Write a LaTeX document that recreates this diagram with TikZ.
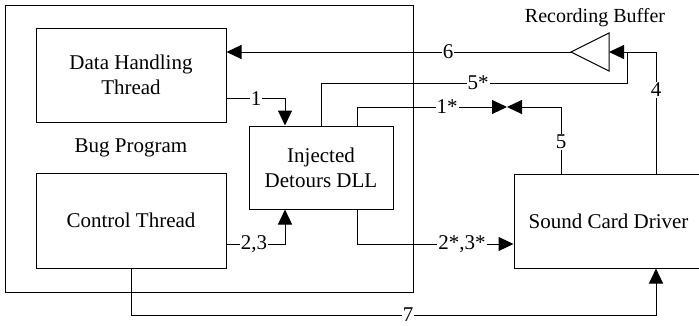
\documentclass[tikz,border=0pt]{standalone}
\usepackage{fontspec}
\setmainfont{Liberation Serif}
\usetikzlibrary{arrows.meta}
\begin{document}
\begin{tikzpicture}[x=1pt,y=-1pt,
  every node/.style={font=\fontsize{21}{25}\selectfont},
  box/.style={draw, line width=1pt, inner sep=0pt, align=center},
  conn/.style={line width=1pt},
  arr/.style={line width=1pt, -{Triangle[length=15pt,width=14pt]}},
  lbl/.style={fill=white, inner sep=1pt}]
\useasboundingbox (0,0) rectangle (699,325);
% boxes
\node[box, minimum width=408pt, minimum height=287pt] (outer) at (209,148.5) {};
\node[box, minimum width=190pt, minimum height=94pt] (dh) at (131,75) {Data Handling\\Thread};
\node[box, minimum width=190pt, minimum height=95pt] (ct) at (131,220.5) {Control Thread};
\node[box, minimum width=144pt, minimum height=83pt] (dll) at (321,167.5) {Injected\\Detours DLL};
\node[box, minimum width=189pt, minimum height=94pt] (scd) at (608.5,221) {Sound Card Driver};
\node (buglbl) at (131,148) {Bug Program};
\node[font=\fontsize{20}{24}\selectfont] (reclbl) at (595,18) {Recording Buffer};
% recording buffer triangle
\coordinate (buftip) at (571,52);
\coordinate (bufbase) at (609,52);
\draw[conn] (buftip) -- (609,33) -- (609,71) -- cycle;
\coordinate (j5) at (627,52);
\coordinate (meet) at (507,107);
% connectors
\draw[arr] (buftip) -- (dh.east|-buftip);
\draw[arr] ([xshift=47.5pt]scd.north) |- (bufbase);
\draw[conn] (dll.north) |- (627,83) -- (j5);
\draw[arr] ([xshift=36pt]dll.north) |- (meet);
\draw[arr] ([xshift=-47.5pt]scd.north) |- (meet);
\draw[arr] ([yshift=-23.5pt]dh.east) -| ([xshift=-36pt]dll.north);
\draw[arr] ([yshift=-23.5pt]ct.east) -| ([xshift=-36pt]dll.south);
\draw[arr] ([xshift=36pt]dll.south) |- ([yshift=-23pt]scd.west);
\draw[arr] (ct.south) -- (ct.south|-0,315) -| ([xshift=47.5pt]scd.south);
% labels
\node[lbl] (l6) at (448,52) {6};
\node[lbl] (l5s) at (478,83) {5*};
\node[lbl] (l1s) at (447,107) {1*};
\node[lbl] (l5) at (561,142) {5};
\node[lbl] (l4) at (656,90) {4};
\node[lbl] (l1) at (256,99) {1};
\node[lbl] (l23) at (254,244) {2,3};
\node[lbl] (l23s) at (462,244) {2*,3*};
\node[lbl] (l7) at (408,315) {7};
\end{tikzpicture}
\end{document}
